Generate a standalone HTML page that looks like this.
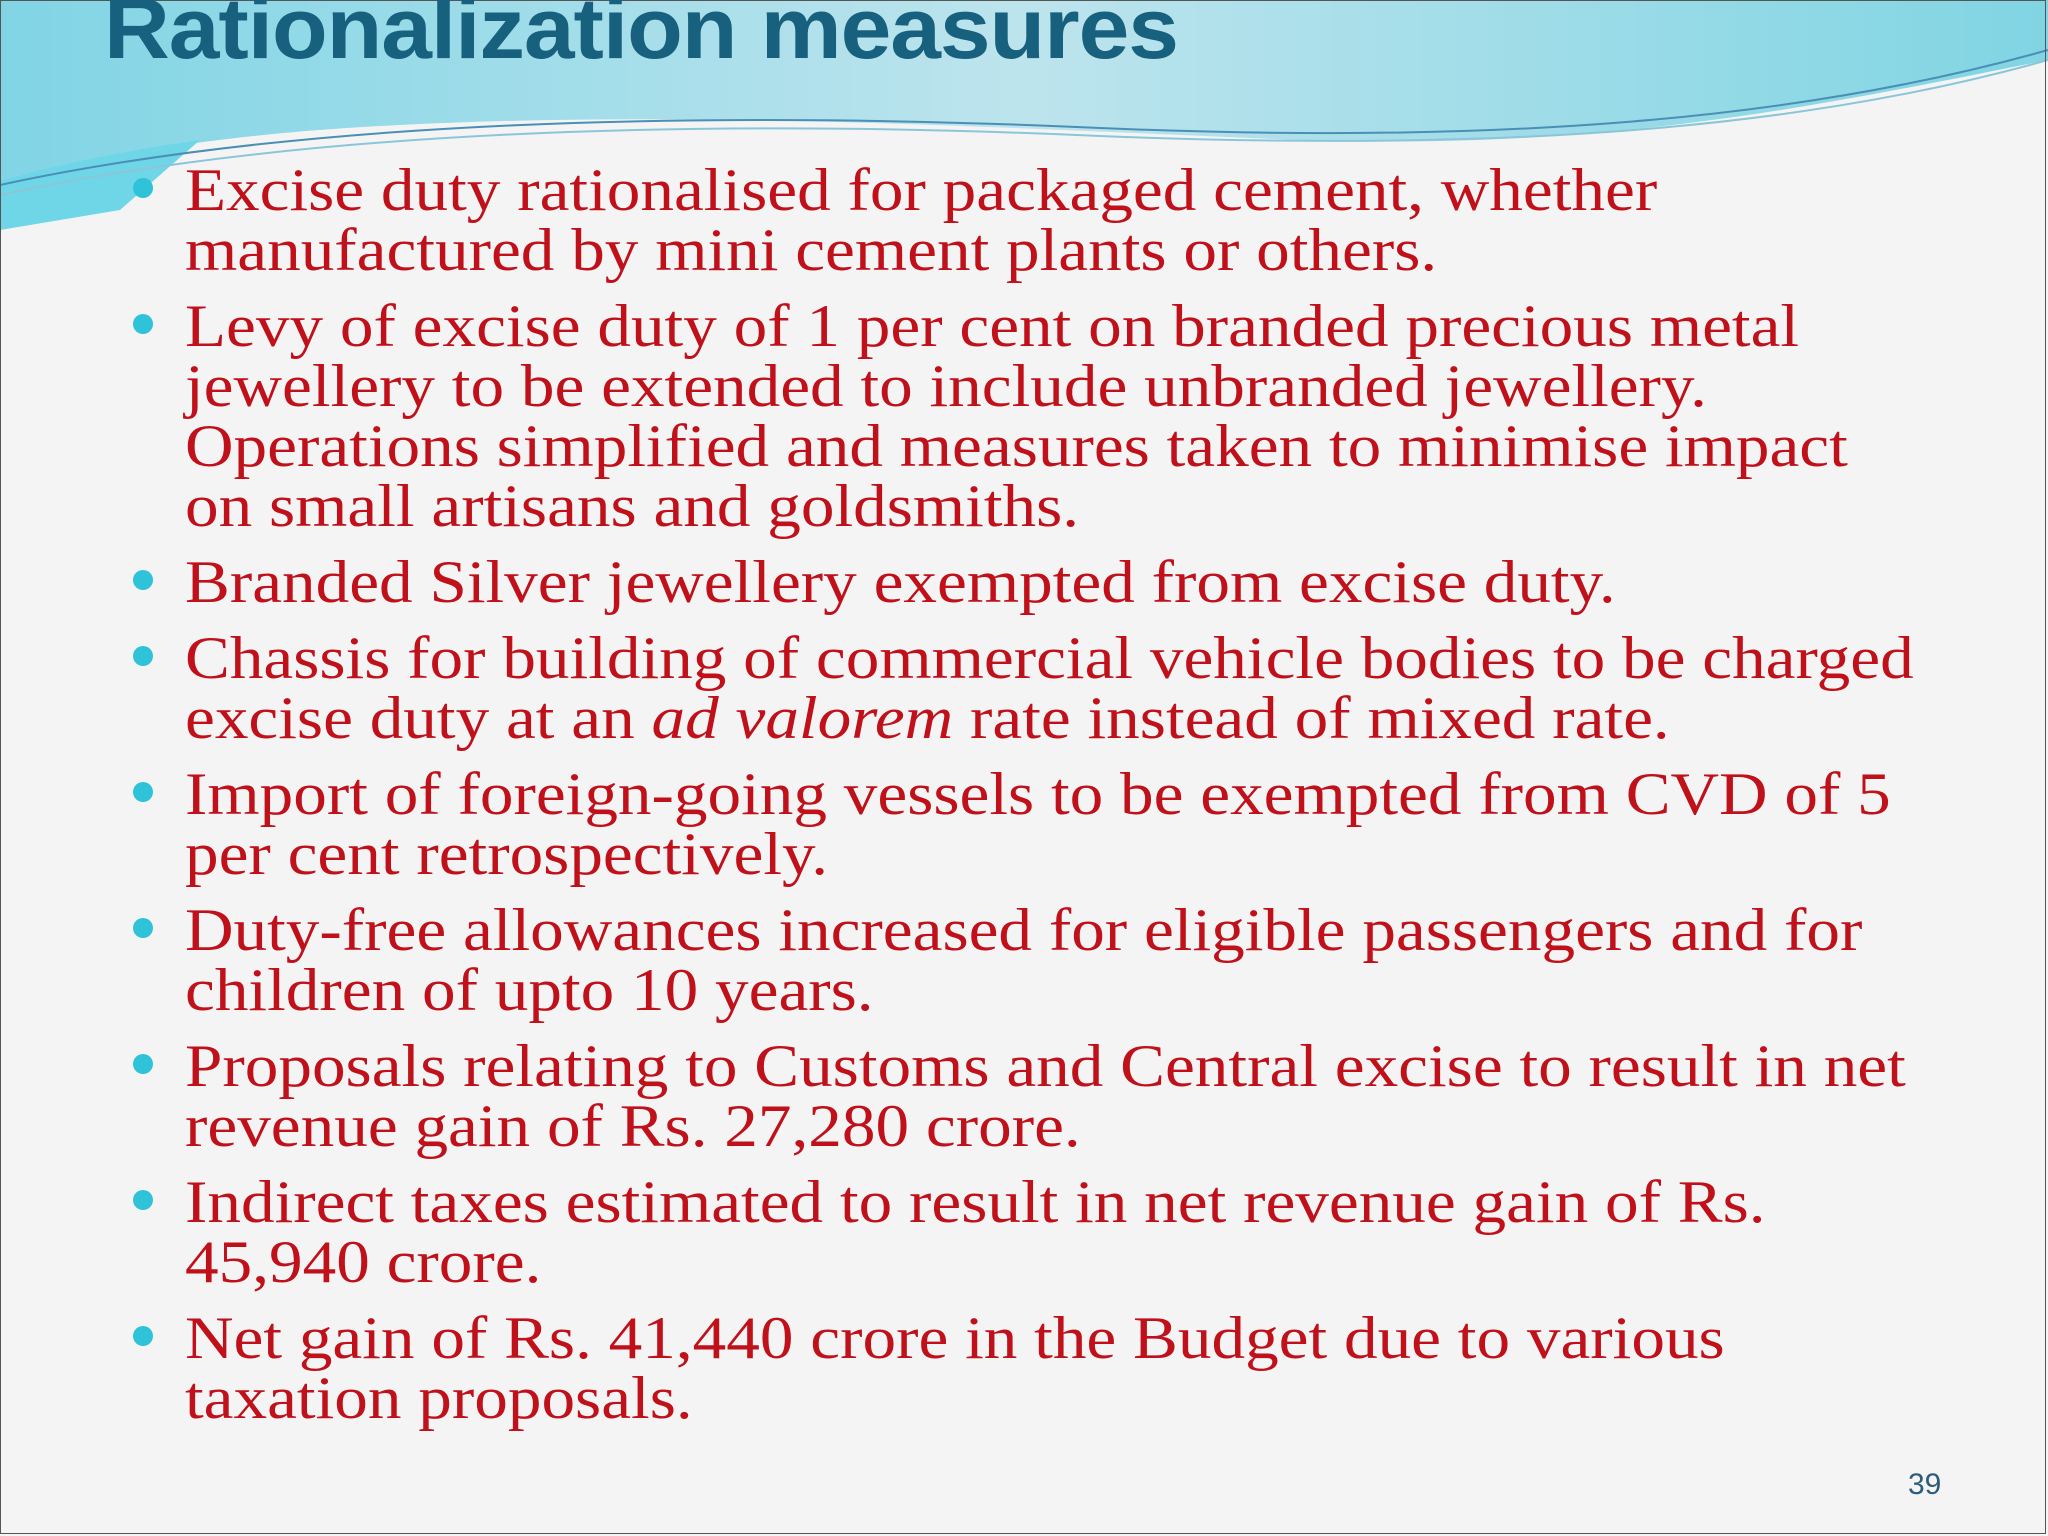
<!DOCTYPE html>
<html><head><meta charset="utf-8"><style>
html,body{margin:0;padding:0}
body{width:2048px;height:1536px;position:relative;overflow:hidden;background:#f4f4f5;border:0}
#frame{position:absolute;left:0;top:0;width:2046px;height:1534px;border:1px solid #555;box-sizing:border-box}
#title{position:absolute;left:104px;top:-20px;font:bold 86px "Liberation Sans",sans-serif;color:#17607e;letter-spacing:-1px;white-space:nowrap;transform:scaleX(1.06);transform-origin:left top}
#list{position:absolute;left:185px;top:160px;font:60px/60px "Liberation Serif",serif;color:#c0101a;margin:0;padding:0;list-style:none}
#list li{position:relative;margin-bottom:16px;white-space:nowrap}
#list li span.t{display:inline-block;transform:scaleX(1.12);transform-origin:left top}
#list li::before{content:"";position:absolute;left:-52px;top:18px;width:20px;height:20px;border-radius:50%;background:#2ec3d8}
#pg{position:absolute;left:1908px;top:1468px;font:30px "Liberation Sans",sans-serif;color:#2d5d7a}
</style></head><body>
<svg width="2048" height="240" style="position:absolute;left:0;top:0">
<defs><linearGradient id="g" x1="0" x2="1"><stop offset="0" stop-color="#6ccfe2"/><stop offset="0.5" stop-color="#b3e1ec"/><stop offset="1" stop-color="#6ccfe0"/></linearGradient></defs>
<path d="M0 0 H2048 V60 C1800 110 1600 150 1300 140 C1000 128 700 110 400 125 C250 132 120 150 0 180 Z" fill="url(#g)" opacity="0.85"/>
<path d="M0 180 C80 160 130 150 200 140 L120 210 L0 230 Z" fill="#6fd6e8"/>
<path d="M0 185 C300 120 700 110 1100 128 C1500 145 1800 120 2048 50" stroke="#4a8fb5" stroke-width="2" fill="none"/>
<path d="M0 195 C300 130 700 118 1100 136 C1500 152 1800 130 2048 60" stroke="#8bc6d8" stroke-width="2" fill="none"/>
</svg>
<div id="frame"></div>
<div id="title">Rationalization measures</div>
<ul id="list">
<li><span class="t">Excise duty rationalised for packaged cement, whether<br>manufactured by mini cement plants or others.</span></li>
<li><span class="t">Levy of excise duty of 1 per cent on branded precious metal<br>jewellery to be extended to include unbranded jewellery.<br>Operations simplified and measures taken to minimise impact<br>on small artisans and goldsmiths.</span></li>
<li><span class="t">Branded Silver jewellery exempted from excise duty.</span></li>
<li><span class="t">Chassis for building of commercial vehicle bodies to be charged<br>excise duty at an <i>ad valorem</i> rate instead of mixed rate.</span></li>
<li><span class="t">Import of foreign-going vessels to be exempted from CVD of 5<br>per cent retrospectively.</span></li>
<li><span class="t">Duty-free allowances increased for eligible passengers and for<br>children of upto 10 years.</span></li>
<li><span class="t">Proposals relating to Customs and Central excise to result in net<br>revenue gain of Rs. 27,280 crore.</span></li>
<li><span class="t">Indirect taxes estimated to result in net revenue gain of Rs.<br>45,940 crore.</span></li>
<li><span class="t">Net gain of Rs. 41,440 crore in the Budget due to various<br>taxation proposals.</span></li>
</ul>
<div id="pg">39</div>
</body></html>
